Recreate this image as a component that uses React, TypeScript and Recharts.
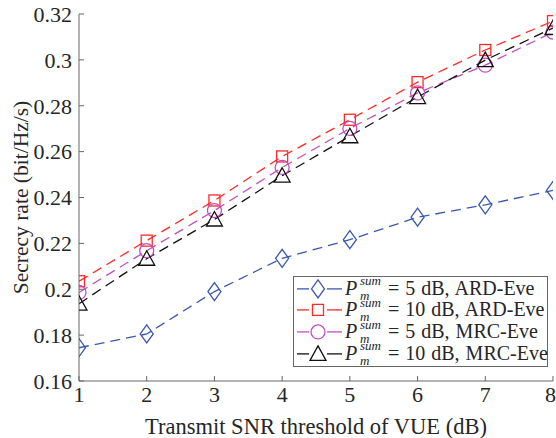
import React from 'react';
import { LineChart, Line, XAxis, YAxis, Label } from 'recharts';

const snr = [1, 2, 3, 4, 5, 6, 7, 8];
const ard5 = [0.1745, 0.1805, 0.199, 0.2135, 0.2216, 0.2314, 0.2368, 0.2431];
const ard10 = [0.2035, 0.2212, 0.2387, 0.2579, 0.2739, 0.2903, 0.3043, 0.3169];
const mrc5 = [0.1986, 0.2168, 0.2343, 0.2531, 0.2701, 0.2856, 0.2977, 0.3121];
const mrc10 = [0.1937, 0.2133, 0.2304, 0.2495, 0.2667, 0.2838, 0.2999, 0.3139];
const yTicks = [0.16, 0.18, 0.2, 0.22, 0.24, 0.26, 0.28, 0.3, 0.32];
const yTickLabels = ['0.16', '0.18', '0.2', '0.22', '0.24', '0.26', '0.28', '0.3', '0.32'];
const seriesNames = ['5 dB, ARD-Eve', '10 dB, ARD-Eve', '5 dB, MRC-Eve', '10 dB, MRC-Eve'];

const data = snr.map((x, i) => ({ x, ard5: ard5[i], ard10: ard10[i], mrc5: mrc5[i], mrc10: mrc10[i] }));

const BLUE = '#3a57ad';
const RED = '#ff2a2a';
const MAG = '#c04fbf';
const BLACK = '#111111';
const AXIS = '#666666';
const TEXT = '#262626';
const FONT = '"Liberation Serif", "DejaVu Serif", serif';
const DASH = '10 6';

type Shape = 'diamond' | 'square' | 'circle' | 'triangle';

const MarkerShape = ({ shape, cx, cy, color }: { shape: Shape; cx: number; cy: number; color: string }) => {
  const sw = 1.3;
  if (shape === 'diamond')
    return <polygon points={`${cx},${cy - 9} ${cx + 6.5},${cy} ${cx},${cy + 9} ${cx - 6.5},${cy}`} fill="none" stroke={color} strokeWidth={sw} />;
  if (shape === 'square')
    return <rect x={cx - 5.5} y={cy - 5.5} width={11} height={11} fill="none" stroke={color} strokeWidth={sw} />;
  if (shape === 'circle')
    return <circle cx={cx} cy={cy} r={7} fill="none" stroke={color} strokeWidth={sw} />;
  return <polygon points={`${cx},${cy - 8} ${cx + 8},${cy + 6.5} ${cx - 8},${cy + 6.5}`} fill="none" stroke={color} strokeWidth={sw} />;
};

const makeDot = (shape: Shape, color: string) => (props: any) => {
  const { cx, cy, index } = props;
  if (cx == null || cy == null) return <g key={index} />;
  return <MarkerShape key={index} shape={shape} cx={cx} cy={cy} color={color} />;
};

const legendItems: { shape: Shape; color: string; name: string }[] = [
  { shape: 'diamond', color: BLUE, name: seriesNames[0] },
  { shape: 'square', color: RED, name: seriesNames[1] },
  { shape: 'circle', color: MAG, name: seriesNames[2] },
  { shape: 'triangle', color: BLACK, name: seriesNames[3] },
];

const ROW = 21.8;

const LegendBox = () => (
  <div
    style={{
      position: 'absolute',
      left: 293,
      top: 276,
      width: 255,
      height: 91,
      border: `1px solid ${AXIS}`,
      background: '#fff',
      boxSizing: 'border-box',
      fontFamily: FONT,
      color: TEXT,
      paddingTop: 0.5,
    }}
  >
    {legendItems.map((it) => (
      <div key={it.name} style={{ position: 'relative', height: ROW }}>
        <svg width={50} height={ROW} style={{ position: 'absolute', left: 0, top: 0 }}>
          <line x1={3} y1={ROW / 2} x2={15} y2={ROW / 2} stroke={it.color} strokeWidth={1.3} />
          <line x1={33} y1={ROW / 2} x2={48} y2={ROW / 2} stroke={it.color} strokeWidth={1.3} />
          <MarkerShape shape={it.shape} cx={24} cy={ROW / 2} color={it.color} />
        </svg>
        <i style={{ position: 'absolute', left: 51, top: 0, height: ROW, lineHeight: `${ROW}px`, fontSize: 20 }}>P</i>
        <i style={{ position: 'absolute', left: 66, top: -2.5, height: 12, lineHeight: '12px', fontSize: 13 }}>sum</i>
        <i style={{ position: 'absolute', left: 66, top: 12, height: 12, lineHeight: '12px', fontSize: 13 }}>m</i>
        <span style={{ position: 'absolute', left: 94, top: 0, height: ROW, lineHeight: `${ROW}px`, fontSize: 20, whiteSpace: 'nowrap', wordSpacing: 1 }}>
          {'= ' + it.name}
        </span>
      </div>
    ))}
  </div>
);

export default function App() {
  return (
    <div style={{ position: 'absolute', left: 0, top: 0, width: 556, height: 438, background: '#fff' }}>
      <LineChart width={556} height={438} data={data} margin={{ top: 14, right: 3, bottom: 0, left: 0 }}>
        <XAxis
          dataKey="x"
          type="number"
          domain={[1, 8]}
          ticks={snr}
          xAxisId="b"
          height={57}
          stroke={AXIS}
          tickSize={-5}
          tickMargin={10}
          tick={{ fill: TEXT, fontFamily: FONT, fontSize: 22 }}
          allowDataOverflow
        >
          <Label value="Transmit SNR threshold of VUE (dB)" position="insideBottom" offset={4} style={{ fill: TEXT, fontFamily: FONT, fontSize: 22.5 }} />
        </XAxis>
        <XAxis
          dataKey="x"
          type="number"
          domain={[1, 8]}
          ticks={snr}
          xAxisId="t"
          orientation="top"
          height={0}
          stroke={AXIS}
          tickSize={-5}
          tickFormatter={() => ''}
        />
        <YAxis
          yAxisId="l"
          type="number"
          domain={[0.16, 0.32]}
          ticks={yTicks}
          width={79}
          stroke={AXIS}
          tickSize={-5}
          tickMargin={12}
          tickFormatter={(v: number) => yTickLabels[yTicks.findIndex((t) => Math.abs(t - v) < 1e-9)] ?? String(v)}
          tick={{ fill: TEXT, fontFamily: FONT, fontSize: 22 }}
          allowDataOverflow
        >
          <Label value="Secrecy rate (bit/Hz/s)" angle={-90} position="insideLeft" offset={20} style={{ fill: TEXT, fontFamily: FONT, fontSize: 21.5, textAnchor: 'middle' }} />
        </YAxis>
        <YAxis
          yAxisId="r"
          orientation="right"
          type="number"
          domain={[0.16, 0.32]}
          ticks={yTicks}
          width={0}
          stroke={AXIS}
          tickSize={-5}
          tickFormatter={() => ''}
        />
        <Line xAxisId="b" yAxisId="l" dataKey="ard5" stroke={BLUE} strokeWidth={1.3} strokeDasharray={DASH} dot={makeDot('diamond', BLUE)} isAnimationActive={false} />
        <Line xAxisId="b" yAxisId="l" dataKey="ard10" stroke={RED} strokeWidth={1.3} strokeDasharray={DASH} dot={makeDot('square', RED)} isAnimationActive={false} />
        <Line xAxisId="b" yAxisId="l" dataKey="mrc5" stroke={MAG} strokeWidth={1.3} strokeDasharray={DASH} dot={makeDot('circle', MAG)} isAnimationActive={false} />
        <Line xAxisId="b" yAxisId="l" dataKey="mrc10" stroke={BLACK} strokeWidth={1.3} strokeDasharray={DASH} dot={makeDot('triangle', BLACK)} isAnimationActive={false} />
      </LineChart>
      <LegendBox />
    </div>
  );
}
